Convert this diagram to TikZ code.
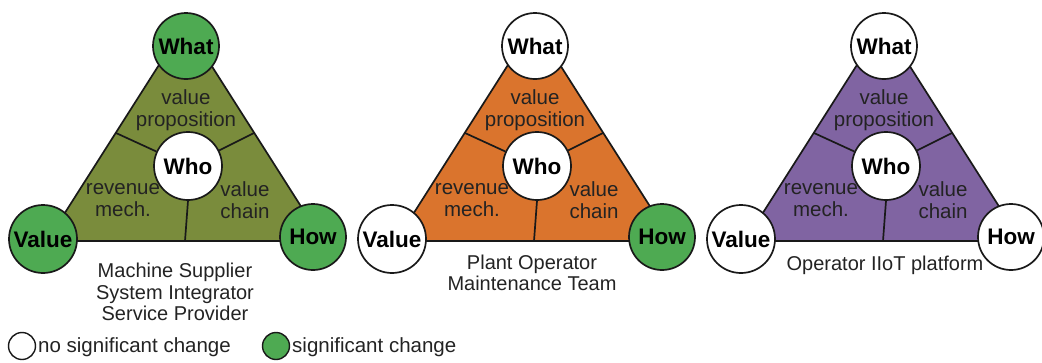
\documentclass[tikz,border=0pt]{standalone}
\usepackage{fontspec}
\setmainfont{Liberation Sans}
\definecolor{olivefill}{RGB}{122,140,60}
\definecolor{orangefill}{RGB}{218,116,45}
\definecolor{purplefill}{RGB}{128,100,162}
\definecolor{greenfill}{RGB}{78,170,82}
\definecolor{edgecol}{RGB}{25,25,25}
\definecolor{txtcol}{RGB}{35,35,35}
\tikzset{
  bigc/.style={circle,draw=edgecol,line width=1.7pt,minimum size=66pt,inner sep=0pt,
    font=\fontsize{22.5}{22.5}\selectfont\bfseries,text=black},
  tri/.style={draw=edgecol,line width=1.7pt,line join=round},
  divline/.style={draw=edgecol,line width=1.7pt},
  lab/.style={align=center,font=\fontsize{20.5}{22}\selectfont,text=txtcol,inner sep=0pt},
  legc/.style={circle,draw=edgecol,line width=1.4pt,minimum size=27pt,inner sep=0pt},
}
\newcommand\bmtri[6]{%
  \begin{scope}[shift={(#2,-4)}]
    \coordinate (#1L) at (47,245);
    \coordinate (#1R) at (323,245);
    \coordinate (#1A) at (185,28);
    \coordinate (#1ml) at (116,137);
    \coordinate (#1mr) at (254,137);
    \coordinate (#1mb) at (185,245);
    \draw[tri,fill=#3] (#1L) -- (#1A) -- (#1R) -- cycle;
    \node[bigc,fill=white,minimum size=68pt] (#1who) at (188,170) {Who};
    \draw[divline] (#1who) -- (#1ml);
    \draw[divline] (#1who) -- (#1mr);
    \draw[divline] (#1who.south) -- (#1mb);
    \node[bigc,fill=#4] (#1what) at (186,50) {What};
    \node[bigc,fill=#5,minimum size=68pt] (#1value) at (43,243) {Value};
    \node[bigc,fill=#6] (#1how) at (313,241) {How};
    \node[lab] (#1vp) at (186,114) {value\\proposition};
    \node[lab] (#1rm) at (123,204) {revenue\\mech.};
    \node[lab] (#1vc) at (245,204) {value\\chain};
  \end{scope}}
\begin{document}
\begin{tikzpicture}[x=1pt,y=-1pt]
  \useasboundingbox (0,0) rectangle (1042,362);
  \bmtri{a}{0}{olivefill}{greenfill}{greenfill}{greenfill}
  \bmtri{b}{349}{orangefill}{white}{white}{greenfill}
  \bmtri{c}{698}{purplefill}{white}{white}{white}
  \node[lab,font=\fontsize{20}{21.5}\selectfont] (atxt) at (175,292) {Machine Supplier\\System Integrator\\Service Provider};
  \node[lab,font=\fontsize{20}{21}\selectfont] (btxt) at (532,273) {Plant Operator\\Maintenance Team};
  \node[lab,font=\fontsize{20}{21}\selectfont] (ctxt) at (885,265) {Operator IIoT platform};
  \node[legc,fill=white] (lg1) at (22,346) {};
  \node[lab,anchor=west] (lg1t) at (38,347) {no significant change};
  \node[legc,fill=greenfill] (lg2) at (276,346) {};
  \node[lab,anchor=west] (lg2t) at (292,347) {significant change};
\end{tikzpicture}
\end{document}
